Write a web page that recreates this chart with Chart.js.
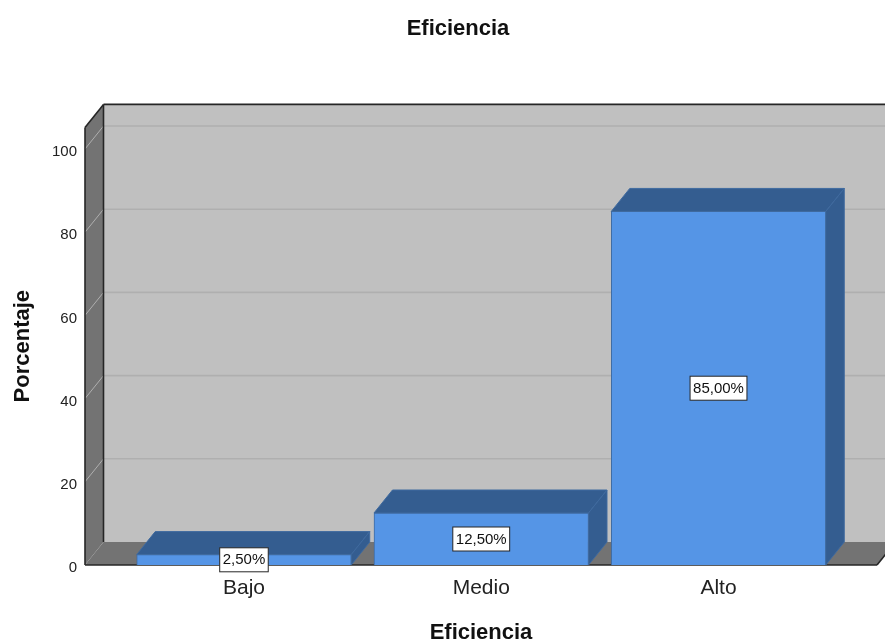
<!DOCTYPE html>
<html>
<head>
<meta charset="utf-8">
<title>Eficiencia</title>
<style>
  html, body { margin: 0; padding: 0; width: 885px; height: 641px; overflow: hidden; background: #fff; }
  canvas { display: block; }
</style>
<script src="https://cdn.jsdelivr.net/npm/chart.js@4"></script>
</head>
<body>
<canvas id="chart" width="917" height="641"></canvas>
<script>
const categories = ['Bajo', 'Medio', 'Alto'];
const percentages = [2.5, 12.5, 85];
const valueLabels = ['2,50%', '12,50%', '85,00%'];
const yTickValues = [0, 20, 40, 60, 80, 100];

const chartTitle = 'Eficiencia';
const xTitle = 'Eficiencia';
const yTitle = 'Porcentaje';

// Projection offset of the back plane relative to the front plane
const DEPTH_X = 18.5;
const DEPTH_Y = 23;

const COLORS = {
  wall: '#c0c0c0',
  side: '#737373',
  grid: '#afafaf',
  edge: '#262626',
  barFront: '#5595e6',
  barDark: '#345d90',
  barLine: '#3f6a9f',
  text: '#222222'
};

function poly(ctx, pts, fill, stroke) {
  ctx.beginPath();
  pts.forEach((p, i) => i ? ctx.lineTo(p[0], p[1]) : ctx.moveTo(p[0], p[1]));
  ctx.closePath();
  if (fill) { ctx.fillStyle = fill; ctx.fill(); }
  if (stroke) { ctx.strokeStyle = stroke; ctx.lineWidth = 1; ctx.stroke(); }
}

function segment(ctx, x1, y1, x2, y2, color, width) {
  ctx.beginPath();
  ctx.moveTo(x1, y1);
  ctx.lineTo(x2, y2);
  ctx.strokeStyle = color;
  ctx.lineWidth = width;
  ctx.stroke();
}

// Draws the box behind the plot and the top and side faces of every bar
const boxPlugin = {
  id: 'box3d',
  beforeDatasetsDraw(chart) {
    const { ctx, chartArea: a, scales: { y } } = chart;
    const backL = a.left + DEPTH_X, backR = a.right + DEPTH_X;
    const backT = a.top - DEPTH_Y, backB = a.bottom - DEPTH_Y;
    ctx.save();
    poly(ctx, [[backL, backT], [backR, backT], [backR, backB], [backL, backB]], COLORS.wall);
    poly(ctx, [[a.left, a.top], [backL, backT], [backL, backB], [a.left, a.bottom]], COLORS.side);
    poly(ctx, [[a.left, a.bottom], [backL, backB], [backR, backB], [a.right, a.bottom]], COLORS.side);

    yTickValues.slice(1).forEach(v => {
      const py = y.getPixelForValue(v);
      segment(ctx, a.left, py, backL, py - DEPTH_Y, COLORS.grid, 1);
      segment(ctx, backL, py - DEPTH_Y, backR, py - DEPTH_Y, COLORS.grid, 1.6);
    });

    segment(ctx, backL, backT, backR, backT, COLORS.edge, 1.6);
    segment(ctx, backL, backT, backL, backB, COLORS.edge, 1.6);
    segment(ctx, a.left, a.top, backL, backT, COLORS.edge, 1.6);
    segment(ctx, a.left, a.top, a.left, a.bottom, COLORS.edge, 1.6);
    segment(ctx, a.left, a.bottom, a.right, a.bottom, COLORS.edge, 1.6);
    segment(ctx, a.right, a.bottom, backR, backB, COLORS.edge, 1.6);

    chart.getDatasetMeta(0).data.forEach(bar => {
      const l = bar.x - bar.width / 2, r = bar.x + bar.width / 2;
      const t = bar.y, b = bar.base;
      poly(ctx, [[l, t], [l + DEPTH_X, t - DEPTH_Y], [r + DEPTH_X, t - DEPTH_Y], [r, t]], COLORS.barDark, COLORS.barLine);
      poly(ctx, [[r, t], [r + DEPTH_X, t - DEPTH_Y], [r + DEPTH_X, b - DEPTH_Y], [r, b]], COLORS.barDark, COLORS.barLine);
    });
    ctx.restore();
  },
  // Boxed value labels centred on each bar's front face
  afterDatasetsDraw(chart) {
    const { ctx } = chart;
    ctx.save();
    ctx.font = '15px "Liberation Sans", Arial, sans-serif';
    ctx.textAlign = 'center';
    ctx.textBaseline = 'middle';
    chart.getDatasetMeta(0).data.forEach((bar, i) => {
      const cx = bar.x, cy = (bar.y + bar.base) / 2;
      const w = ctx.measureText(valueLabels[i]).width + 6;
      const h = 24;
      ctx.fillStyle = '#ffffff';
      ctx.fillRect(cx - w / 2, cy - h / 2, w, h);
      ctx.strokeStyle = COLORS.edge;
      ctx.lineWidth = 1;
      ctx.strokeRect(cx - w / 2, cy - h / 2, w, h);
      ctx.fillStyle = '#111111';
      ctx.fillText(valueLabels[i], cx, cy + 0.5);
    });
    ctx.restore();
  }
};

new Chart(document.getElementById('chart'), {
  type: 'bar',
  data: {
    datasets: [{
      data: categories.map((c, i) => ({ x: i, y: percentages[i] })),
      backgroundColor: COLORS.barFront,
      borderColor: COLORS.barLine,
      borderWidth: 1,
      barThickness: 214.5
    }]
  },
  options: {
    responsive: false,
    animation: false,
    layout: { padding: { left: 39, right: 40 } },
    plugins: {
      legend: { display: false },
      tooltip: { enabled: false },
      title: {
        display: true,
        text: chartTitle,
        color: '#111111',
        font: { family: '"Liberation Sans", Arial, sans-serif', size: 22, weight: 'bold' },
        padding: { top: 16, bottom: 85 }
      }
    },
    scales: {
      x: {
        type: 'linear',
        offset: false,
        min: -0.67,
        max: 2.668,
        afterBuildTicks(scale) { scale.ticks = categories.map((c, i) => ({ value: i })); },
        afterFit(scale) { scale.height = 76; },
        grid: { display: false, drawTicks: false },
        border: { display: false },
        ticks: {
          autoSkip: false,
          maxRotation: 0,
          padding: 11,
          color: COLORS.text,
          font: { family: '"Liberation Sans", Arial, sans-serif', size: 21 },
          callback: value => categories[value]
        },
        title: {
          display: true,
          text: xTitle,
          color: '#111111',
          font: { family: '"Liberation Sans", Arial, sans-serif', size: 22, weight: 'bold' },
          padding: { top: 0, bottom: -5 }
        }
      },
      y: {
        min: 0,
        max: 105.2,
        afterBuildTicks(scale) { scale.ticks = yTickValues.map(value => ({ value })); },
        afterFit(scale) { scale.width = 46; },
        grid: { display: false, drawTicks: false },
        border: { display: false },
        ticks: {
          padding: 8,
          labelOffset: 3,
          color: COLORS.text,
          font: { family: '"Liberation Sans", Arial, sans-serif', size: 15 }
        },
        title: {
          display: true,
          text: yTitle,
          color: '#111111',
          font: { family: '"Liberation Sans", Arial, sans-serif', size: 22, weight: 'bold' },
          padding: { top: -29, bottom: 0 }
        }
      }
    }
  },
  plugins: [boxPlugin]
});
</script>
</body>
</html>
